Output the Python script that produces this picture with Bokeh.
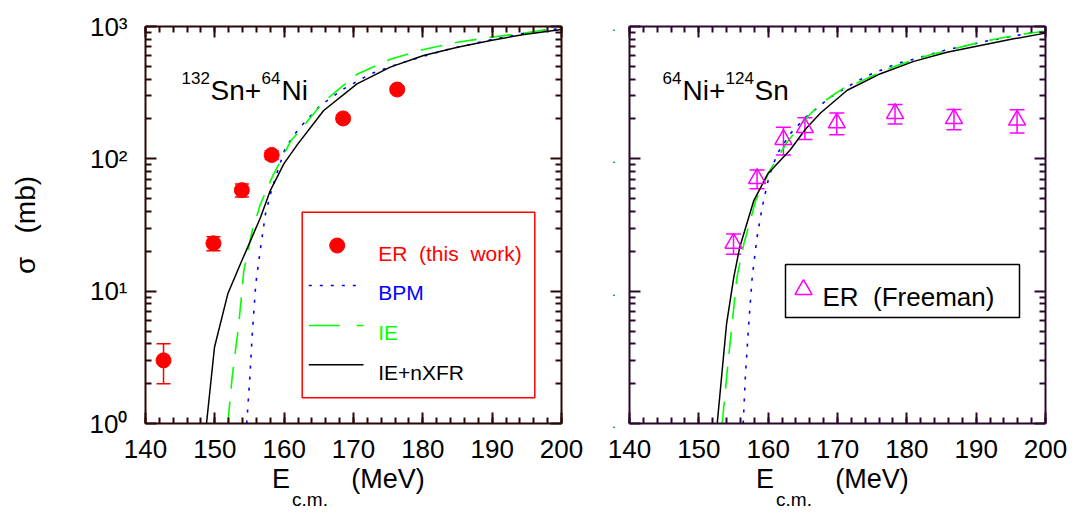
from bokeh.plotting import figure
from bokeh.models import (Range1d, LinearAxis, LogAxis, FixedTicker, Label, Whisker,
                          TeeHead, ColumnDataSource, BoxAnnotation, CustomJSTickFormatter)
from bokeh.layouts import row
from bokeh.embed import file_html
from bokeh.resources import INLINE

# ---------------- data ----------------
x_major = [140, 150, 160, 170, 180, 190, 200]
x_minor = list(range(140, 201, 2))
y_major = [1, 10, 100, 1000]
y_minor = [m * d for d in (1, 10, 100) for m in range(2, 10)]
y_labels = ["10\u2070", "10\u00b9", "10\u00b2", "10\u00b3"]

# 132Sn + 64Ni : ER (this work)
er_x = [142.6, 149.8, 153.9, 158.2, 168.5, 176.3]
er_y = [3.0, 23.0, 58.0, 107.0, 202.0, 334.0]
er_err = [1.0, 2.8, 6.5, 8.0, 12.0, 18.0]

bpm_l_x = [154.6, 155.05, 155.43, 155.91, 156.68, 157.31, 158.03, 159.23, 160.2, 162.1,
           165.2, 168.6, 172.5, 176.8, 183.0, 189.3, 195.5, 198.4, 200.0]
bpm_l_y = [1.0, 2.24, 5.04, 11.4, 22.8, 38.5, 54.4, 86.5, 122, 169,
           253, 338, 440, 529, 659, 784, 908, 945, 965]

ie_l_x = [151.87, 152.5, 153.46, 154.18, 155.39, 156.59, 158.27, 160.9, 165.7, 170.5,
          175.3, 180.1, 185.0, 189.8, 194.6, 199.6, 200.0]
ie_l_y = [1.0, 2.24, 5.67, 14.3, 28.7, 45.7, 72.7, 135, 270, 435,
          565, 670, 760, 830, 891, 980, 985]

nx_l_x = [148.8, 149.95, 151.87, 153.7, 155.15, 156.6, 158.0, 159.95, 161.9, 165.7,
          170.5, 175.3, 180.1, 185.0, 189.8, 194.6, 200.0]
nx_l_y = [1.0, 3.77, 9.55, 16.1, 24.1, 36.2, 57.6, 91.7, 128, 232,
          369, 493, 604, 698, 784, 871, 950]

# 64Ni + 124Sn : ER (Freeman)
fr_x = [155.0, 158.4, 162.2, 165.3, 169.9, 178.3, 186.8, 195.9]
fr_y = [23.0, 71.0, 140.0, 172.0, 187.0, 220.0, 201.0, 196.0]
fr_err = [4.0, 11.5, 33.0, 32.0, 35.0, 37.0, 35.0, 39.0]

bpm_r_x = [156.4, 156.73, 157.2, 157.7, 158.4, 159.14, 160.1, 161.3, 163.2, 165.4,
           169.0, 172.6, 174.5, 178.6, 180.8, 184.9, 191.5, 197.85, 200.0]
bpm_r_y = [1.0, 2.37, 5.67, 12.8, 25.6, 43.1, 72.7, 109, 155, 206,
           293, 380, 429, 525, 562, 650, 776, 893, 920]

ie_r_x = [153.37, 154.1, 154.8, 155.5, 156.5, 158.2, 160.1, 162.75, 165.4, 167.55,
          170.7, 173.1, 176.9, 179.6, 183.4, 186.3, 190.1, 193.0, 197.85, 200.0]
ie_r_y = [1.0, 2.51, 5.67, 12.8, 22.8, 48.4, 79.3, 134, 201, 261,
          338, 380, 470, 529, 612, 668, 750, 809, 893, 920]

nx_r_x = [152.65, 154.0, 155.05, 155.9, 157.93, 159.95, 163.2, 165.4, 167.55, 171.4,
          176.2, 181.0, 185.8, 190.6, 195.4, 200.0]
nx_r_y = [1.0, 5.67, 12.8, 21.5, 48.4, 77.1, 117, 168, 222, 330,
          440, 545, 638, 719, 807, 891]

# x-axis title pieces (placed as tick labels of extra label-only axes)
xtitle_main = {159.54: "E", 174.98: "(MeV)"}
xtitle_sub = {163.73: "c.m."}

NB = "\u00a0"
legend_left = [("ER" + NB * 2 + "(this" + NB * 2 + "work)", "#ff0000"),
               ("BPM", "#0000ff"), ("IE", "#00ff00"), ("IE+nXFR", "black")]
legend_right = "ER" + NB * 2 + "(Freeman)"
ylabel = "\u03c3" + NB * 3 + "(mb)"

# ---------------- layout ----------------
FONT = "Liberation Sans"
FW, FT, FB = 416, 26, 423          # frame width, top, bottom (px)
H = 512
RED, BLUE, GREEN, MAG = "#ff0000", "#0000ff", "#00ff00", "#ff00ff"


def label_axis(ticks, overrides, size, standoff):
    ax = LinearAxis(ticker=FixedTicker(ticks=list(ticks), minor_ticks=[]),
                    major_label_overrides=dict(overrides))
    ax.axis_line_color = None
    ax.major_tick_line_color = None
    ax.minor_tick_line_color = None
    ax.major_tick_in = 0
    ax.major_tick_out = 0
    ax.minor_tick_in = 0
    ax.minor_tick_out = 0
    ax.major_label_text_font = FONT
    ax.major_label_text_font_size = f"{size}px"
    ax.major_label_text_color = "black"
    ax.major_label_standoff = standoff
    return ax


def make_fig(frame_left, width, axis_color):
    p = figure(width=width, height=H, x_range=Range1d(140, 200), y_range=Range1d(1, 1000),
               y_axis_type="log", output_backend="svg", toolbar_location=None,
               min_border_left=frame_left, min_border_right=width - frame_left - FW,
               min_border_top=FT, min_border_bottom=H - FB)
    p.xgrid.visible = False
    p.ygrid.visible = False
    p.outline_line_color = None
    p.background_fill_color = "white"
    p.border_fill_color = "white"

    blank = CustomJSTickFormatter(code="return ''")
    xt = FixedTicker(ticks=x_major, minor_ticks=x_minor)
    yt = FixedTicker(ticks=y_major, minor_ticks=y_minor)
    top = LinearAxis()
    right = LogAxis()
    p.add_layout(top, "above")
    p.add_layout(right, "right")
    for ax in list(p.xaxis) + list(p.yaxis):
        ax.ticker = xt if ax in p.xaxis else yt
        ax.axis_line_color = axis_color
        ax.axis_line_width = 2
        ax.major_tick_line_color = axis_color
        ax.minor_tick_line_color = axis_color
        ax.major_tick_line_width = 2
        ax.minor_tick_line_width = 2
        ax.major_tick_in = 11
        ax.major_tick_out = 0
        ax.minor_tick_in = 6
        ax.minor_tick_out = 0
    bottom = p.below[0]
    bottom.major_label_text_font = FONT
    bottom.major_label_text_font_size = "26px"
    bottom.major_label_text_color = "black"
    bottom.major_label_standoff = 16
    for ax in (top, right):
        ax.formatter = blank
        ax.major_label_standoff = 0
    # x-axis title: "E  (MeV)" row, then the "c.m." subscript row
    p.add_layout(label_axis(xtitle_main.keys(), xtitle_main, 27, 3), "below")
    p.add_layout(label_axis(xtitle_sub.keys(), xtitle_sub, 19, -8), "below")

    X = lambda px: 140 + (px - frame_left) * 60.0 / FW
    Y = lambda py: 10 ** ((FB - py) * 3.0 / (FB - FT))

    def lab(px, py, text, size, color="black", align="left"):
        p.add_layout(Label(x=X(px), y=Y(py), text=text, text_font=FONT,
                           text_font_size=f"{size}px", text_color=color,
                           text_align=align, text_baseline="alphabetic"))
    return p, X, Y, lab


# ---------------- left panel ----------------
pl, XL, YL, labL = make_fig(145, 588, "#2a0808")
left = pl.left[0]
left.major_label_overrides = dict(zip(y_major, y_labels))
left.major_label_text_font = FONT
left.major_label_text_font_size = "26px"
left.major_label_text_color = "black"
left.major_label_standoff = 18
left.axis_label = ylabel
left.axis_label_text_font = FONT
left.axis_label_text_font_size = "28px"
left.axis_label_text_font_style = "normal"
left.axis_label_text_color = "black"
left.axis_label_standoff = 46

src_er = ColumnDataSource(dict(x=er_x, y=er_y,
                               lo=[y - e for y, e in zip(er_y, er_err)],
                               hi=[y + e for y, e in zip(er_y, er_err)]))
pl.add_layout(Whisker(source=src_er, base="x", lower="lo", upper="hi", dimension="height",
                      line_color=RED, line_width=1.5, level="underlay",
                      lower_head=TeeHead(size=14, line_color=RED, line_width=1.5),
                      upper_head=TeeHead(size=14, line_color=RED, line_width=1.5)))
pl.line(bpm_l_x, bpm_l_y, line_color=BLUE, line_width=1.6, line_dash="3 8")
pl.line(ie_l_x, ie_l_y, line_color=GREEN, line_width=1.6, line_dash="22 13")
pl.line(nx_l_x, nx_l_y, line_color="black", line_width=1.5)
pl.scatter(er_x, er_y, marker="circle", size=15, color=RED)

# title 132Sn+64Ni
labL(181, 77, "132", 17)
labL(210, 90, "Sn+", 28)
labL(261, 77, "64", 17)
labL(281, 90, "Ni", 28)

# legend (left)
pl.add_layout(BoxAnnotation(left=XL(301.7), right=XL(534.3), top=YL(211.7), bottom=YL(397.3),
                            fill_color=None, line_color=RED, line_alpha=1.0, line_width=1.5))
pl.scatter([XL(336.7)], [YL(245)], marker="circle", size=15, color=RED)
pl.line([XL(308.3), XL(363)], [YL(285), YL(285)], line_color=BLUE, line_width=1.6, line_dash="3 8")
pl.line([XL(308.3), XL(363)], [YL(325), YL(325)], line_color=GREEN, line_width=1.6, line_dash="31 17")
pl.line([XL(308.3), XL(363)], [YL(364.3), YL(364.3)], line_color="black", line_width=1.5)
for (txt, col), py in zip(legend_left, [253.3, 292.3, 331.7, 371.7]):
    labL(377.7, py, txt, 21, col)

# ---------------- right panel ----------------
pr, XR, YR, labR = make_fig(41, 484, "#2a082a")
rleft = pr.left[0]
rleft.formatter = CustomJSTickFormatter(code="return '.'")
rleft.major_label_text_font = FONT
rleft.major_label_text_font_size = "12px"
rleft.major_label_text_color = "black"
rleft.major_label_standoff = 14

src_fr = ColumnDataSource(dict(x=fr_x, y=fr_y,
                               lo=[y - e for y, e in zip(fr_y, fr_err)],
                               hi=[y + e for y, e in zip(fr_y, fr_err)]))
pr.add_layout(Whisker(source=src_fr, base="x", lower="lo", upper="hi", dimension="height",
                      line_color=MAG, line_width=1.5, level="underlay",
                      lower_head=TeeHead(size=15, line_color=MAG, line_width=1.5),
                      upper_head=TeeHead(size=15, line_color=MAG, line_width=1.5)))
pr.line(bpm_r_x, bpm_r_y, line_color=BLUE, line_width=1.6, line_dash="3 8")
pr.line(ie_r_x, ie_r_y, line_color=GREEN, line_width=1.6, line_dash="22 13")
pr.line(nx_r_x, nx_r_y, line_color="black", line_width=1.5)
pr.scatter(fr_x, fr_y, marker="triangle", size=17, fill_color=None, line_color=MAG, line_width=1.5)

# title 64Ni+124Sn  (page x offset of right figure = 588)
OFF = 588
labR(662 - OFF, 77, "64", 17)
labR(682 - OFF, 90, "Ni+", 28)
labR(725 - OFF, 77, "124", 17)
labR(754 - OFF, 90, "Sn", 28)

# legend (right)
pr.add_layout(BoxAnnotation(left=XR(785 - OFF), right=XR(1019 - OFF), top=YR(264), bottom=YR(317),
                            fill_color=None, line_color="black", line_alpha=1.0, line_width=1.5))
pr.scatter([XR(803 - OFF)], [YR(289)], marker="triangle", size=17, fill_color=None,
           line_color=MAG, line_width=1.5)
labR(822 - OFF, 296, legend_right, 26, "black")

layout = row(pl, pr)
open("out.html", "w").write(file_html(layout, INLINE))
